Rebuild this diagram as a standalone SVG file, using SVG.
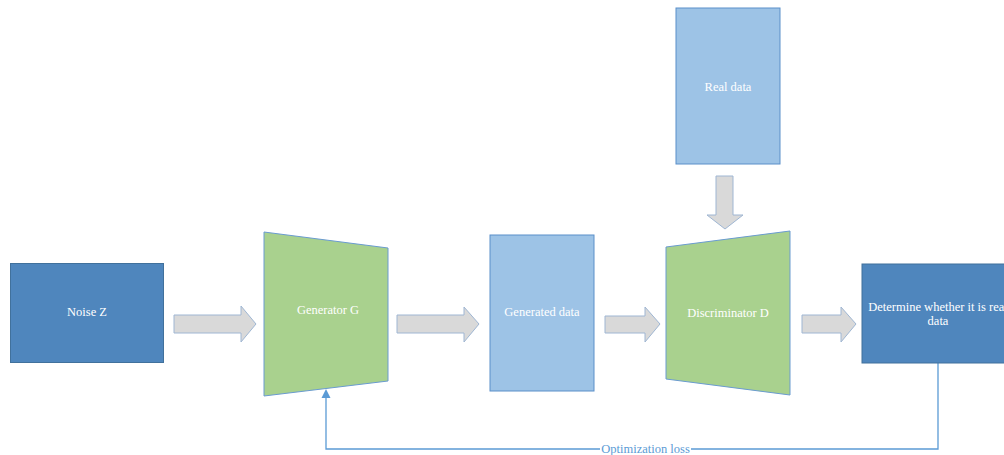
<svg xmlns="http://www.w3.org/2000/svg" width="1004" height="455" viewBox="0 0 1004 455">
<style>
.dark{fill:#4F86BD;stroke:#41719C;stroke-width:1}
.light{fill:#9DC3E6;stroke:#5B8FC9;stroke-width:1}
.green{fill:#A9D18E;stroke:#6A9BD0;stroke-width:1}
.arrow{fill:#D9D9D9;stroke:#9FB6D3;stroke-width:1}
.lbl{font-family:"Liberation Serif",serif;font-size:12.5px;fill:#FFFFFF;text-anchor:middle;dominant-baseline:central}
.loss{font-family:"Liberation Serif",serif;font-size:12.5px;fill:#5B9BD5;text-anchor:middle;dominant-baseline:central}
</style>
<rect width="1004" height="455" fill="#FFFFFF"/>
<g id="connectors">
<polygon class="arrow" points="174,315 241,315 241,306 256,324 241,342 241,333 174,333"/>
<polygon class="arrow" points="397,315 464,315 464,307 479,324 464,342 464,333 397,333"/>
<polygon class="arrow" points="605,316 645,316 645,307 660,324 645,342 645,333 605,333"/>
<polygon class="arrow" points="802,315 841,315 841,307 856,324 841,342 841,333 802,333"/>
<polygon class="arrow" points="716,176 733,176 733,215 743,215 725,229 707,215 716,215"/>
<polyline points="938,363 938,449 326,449 326,396" fill="none" stroke="#5B9BD5" stroke-width="1.3"/>
<polygon points="326,389 330.5,398 321.5,398" fill="#5B9BD5"/>
<rect x="600" y="442" width="91" height="14" fill="#FFFFFF"/>
<text class="loss" x="645.5" y="449">Optimization loss</text>
</g>
<g id="noise">
<rect class="dark" x="10.5" y="263.5" width="153" height="99"/>
<text class="lbl" x="87" y="312">Noise Z</text>
</g>
<g id="generator">
<polygon class="green" points="264,232 388,248 388,381 264,396"/>
<text class="lbl" x="328" y="310">Generator G</text>
</g>
<g id="generated">
<rect class="light" x="490" y="235" width="104" height="156"/>
<text class="lbl" x="542" y="312">Generated data</text>
</g>
<g id="real">
<rect class="light" x="676" y="8" width="104" height="156"/>
<text class="lbl" x="728" y="87">Real data</text>
</g>
<g id="discriminator">
<polygon class="green" points="666,247 790,231 790,395 666,379"/>
<text class="lbl" x="728" y="313">Discriminator D</text>
</g>
<g id="determine">
<rect class="dark" x="862" y="264" width="152" height="99"/>
<text class="lbl" x="938" y="307">Determine whether it is real</text>
<text class="lbl" x="938" y="321">data</text>
</g>
</svg>
